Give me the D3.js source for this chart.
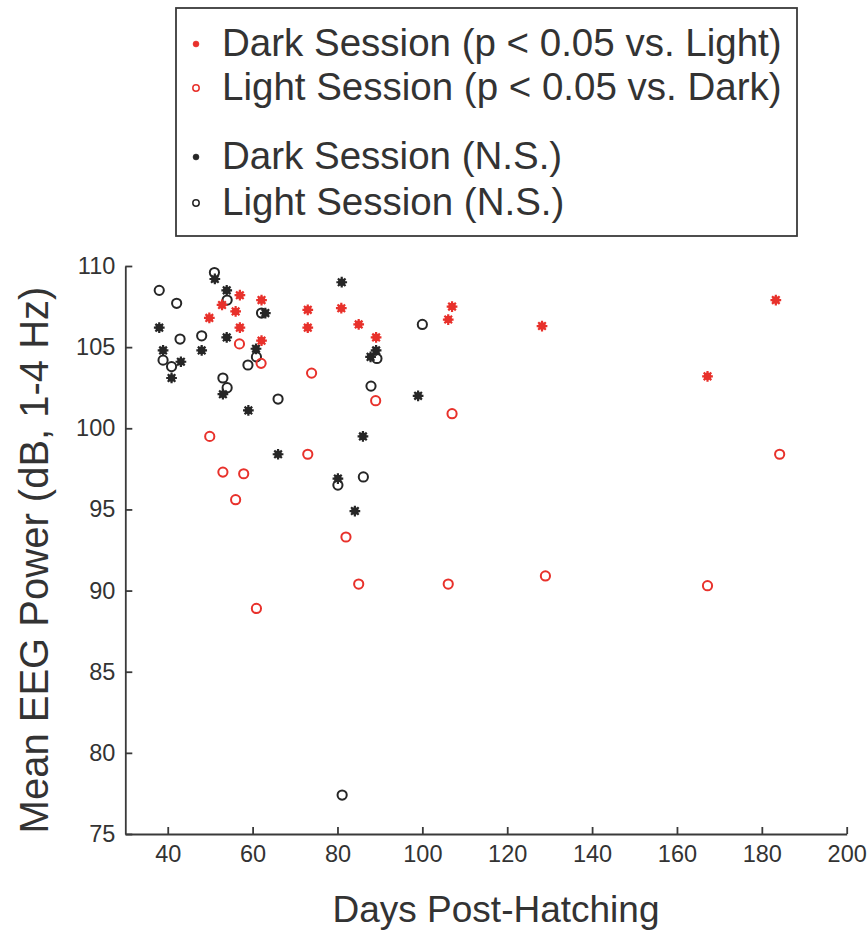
<!DOCTYPE html>
<html>
<head>
<meta charset="utf-8">
<script src="https://cdn.jsdelivr.net/npm/d3@7"></script>
<style>
  body { margin: 0; background: #fff; }
  text { font-family: "Liberation Sans", Arial, Helvetica, sans-serif; fill: #333; }
</style>
</head>
<body>
<script>
// Dark session, significant vs. light (red asterisks)
const darkSigDays = [49.8, 52.8, 57.0, 56.0, 57.0, 62.1, 62.1, 73.0, 73.0, 80.9, 85.0, 89.1, 107.0, 106.1, 128.2, 167.2, 183.3];
const darkSigPower = [106.8, 107.6, 108.2, 107.2, 106.2, 107.9, 105.4, 107.3, 106.2, 107.4, 106.4, 105.6, 107.5, 106.7, 106.3, 103.2, 107.9];

// Light session, significant vs. dark (red open circles)
const lightSigDays = [49.9, 53.0, 57.9, 56.0, 56.9, 62.0, 60.9, 73.0, 73.9, 82.0, 85.0, 89.0, 107.0, 106.1, 129.0, 167.2, 184.2];
const lightSigPower = [99.5, 97.3, 97.2, 95.6, 105.2, 104.0, 88.9, 98.4, 103.4, 93.3, 90.4, 101.7, 100.9, 90.4, 90.9, 90.3, 98.4];

// Dark session, not significant (black asterisks)
const darkNsDays = [38.0, 38.9, 40.9, 43.1, 48.0, 51.1, 53.9, 53.9, 53.0, 59.0, 60.8, 63.0, 66.0, 81.0, 86.0, 80.1, 84.1, 89.1, 87.8, 99.0];
const darkNsPower = [106.2, 104.8, 103.1, 104.1, 104.8, 109.2, 108.5, 105.6, 102.1, 101.1, 104.9, 107.1, 98.4, 109.0, 99.5, 96.9, 94.9, 104.8, 104.4, 102.0];

// Light session, not significant (black open circles)
const lightNsDays = [38.0, 42.1, 51.0, 54.0, 62.1, 42.9, 48.0, 38.9, 40.9, 60.9, 58.9, 53.0, 54.0, 66.0, 80.1, 86.1, 89.3, 87.9, 100.0, 81.1];
const lightNsPower = [108.5, 107.7, 109.6, 107.9, 107.1, 105.5, 105.7, 104.2, 103.8, 104.4, 103.9, 103.1, 102.5, 101.8, 96.5, 97.0, 104.3, 102.6, 106.4, 77.4];

const xTicks = [40, 60, 80, 100, 120, 140, 160, 180, 200];
const yTicks = [75, 80, 85, 90, 95, 100, 105, 110];

const legendLabels = [
  'Dark Session (p < 0.05 vs. Light)',
  'Light Session (p < 0.05 vs. Dark)',
  'Dark Session (N.S.)',
  'Light Session (N.S.)'
];

const width = 868;
const height = 937;
const red = '#e8312b';
const black = '#262626';

const svg = d3.select('body').append('svg')
  .attr('width', width)
  .attr('height', height);

const x = d3.scaleLinear().domain([30, 200]).range([125.3, 846.7]);
const y = d3.scaleLinear().domain([75, 110]).range([834, 266]);

// 8-spoke asterisk like the matlab '*' marker
const star = {
  draw(ctx, size) {
    const r = Math.sqrt(size) / 2;
    for (let i = 0; i < 4; i++) {
      const a = i * Math.PI / 4;
      ctx.moveTo(-r * Math.cos(a), -r * Math.sin(a));
      ctx.lineTo(r * Math.cos(a), r * Math.sin(a));
    }
  }
};

// axes
const xAxis = d3.axisBottom(x)
  .tickValues(xTicks)
  .tickSizeInner(-7)
  .tickSizeOuter(0)
  .tickPadding(11);

const yAxis = d3.axisLeft(y)
  .tickValues(yTicks)
  .tickSizeInner(-7)
  .tickSizeOuter(0)
  .tickPadding(10);

const gx = svg.append('g')
  .attr('transform', `translate(0,${y(75)})`)
  .call(xAxis);

const gy = svg.append('g')
  .attr('transform', `translate(${x(30)},0)`)
  .call(yAxis);

[gx, gy].forEach((g) => {
  g.select('.domain').attr('stroke', '#3a3a3a').attr('stroke-width', 1.8);
  g.selectAll('.tick line').attr('stroke', '#3a3a3a').attr('stroke-width', 1.8);
  g.selectAll('.tick text')
    .attr('fill', '#333')
    .style('font-size', '23.5px')
    .style('font-family', '"Liberation Sans", Arial, sans-serif');
});

svg.append('text')
  .attr('x', 496)
  .attr('y', 922)
  .attr('text-anchor', 'middle')
  .style('font-size', '37px')
  .text('Days Post-Hatching');

svg.append('text')
  .attr('transform', 'translate(48,560) rotate(-90)')
  .attr('text-anchor', 'middle')
  .style('font-size', '40px')
  .text('Mean EEG Power (dB, 1-4 Hz)');

// points
const plot = svg.append('g');

function drawStars(days, power, color) {
  const pts = d3.zip(days, power);
  const g = plot.append('g');
  g.selectAll('circle')
    .data(pts)
    .join('circle')
    .attr('cx', (d) => x(d[0]))
    .attr('cy', (d) => y(d[1]))
    .attr('r', 3.8)
    .attr('fill', color);
  g.selectAll('path')
    .data(pts)
    .join('path')
    .attr('transform', (d) => `translate(${x(d[0])},${y(d[1])})`)
    .attr('d', d3.symbol().type(star).size(115))
    .attr('fill', 'none')
    .attr('stroke', color)
    .attr('stroke-width', 2.2);
}

function drawRings(days, power, color) {
  plot.append('g').selectAll('circle')
    .data(d3.zip(days, power))
    .join('circle')
    .attr('cx', (d) => x(d[0]))
    .attr('cy', (d) => y(d[1]))
    .attr('r', 4.6)
    .attr('fill', 'none')
    .attr('stroke', color)
    .attr('stroke-width', 2);
}

drawRings(lightNsDays, lightNsPower, black);
drawStars(darkNsDays, darkNsPower, black);
drawRings(lightSigDays, lightSigPower, red);
drawStars(darkSigDays, darkSigPower, red);

// legend
const legend = svg.append('g');
legend.append('rect')
  .attr('x', 176)
  .attr('y', 8)
  .attr('width', 621)
  .attr('height', 228)
  .attr('fill', '#fff')
  .attr('stroke', '#3a3a3a')
  .attr('stroke-width', 1.8);

const rowY = [56, 100, 169, 215];
const rowStyle = [
  { color: red, filled: true },
  { color: red, filled: false },
  { color: black, filled: true },
  { color: black, filled: false }
];

const rows = legend.selectAll('g.row')
  .data(legendLabels)
  .join('g')
  .attr('class', 'row')
  .attr('transform', (d, i) => `translate(0,${rowY[i]})`);

rows.append('circle')
  .attr('cx', 196)
  .attr('cy', -12)
  .attr('r', (d, i) => (rowStyle[i].filled ? 3 : 3.2))
  .attr('fill', (d, i) => (rowStyle[i].filled ? rowStyle[i].color : 'none'))
  .attr('stroke', (d, i) => rowStyle[i].color)
  .attr('stroke-width', (d, i) => (rowStyle[i].filled ? 0.5 : 1.5));

rows.append('text')
  .attr('x', 222)
  .attr('y', 0)
  .style('font-size', '38.5px')
  .text((d) => d);
</script>
</body>
</html>
